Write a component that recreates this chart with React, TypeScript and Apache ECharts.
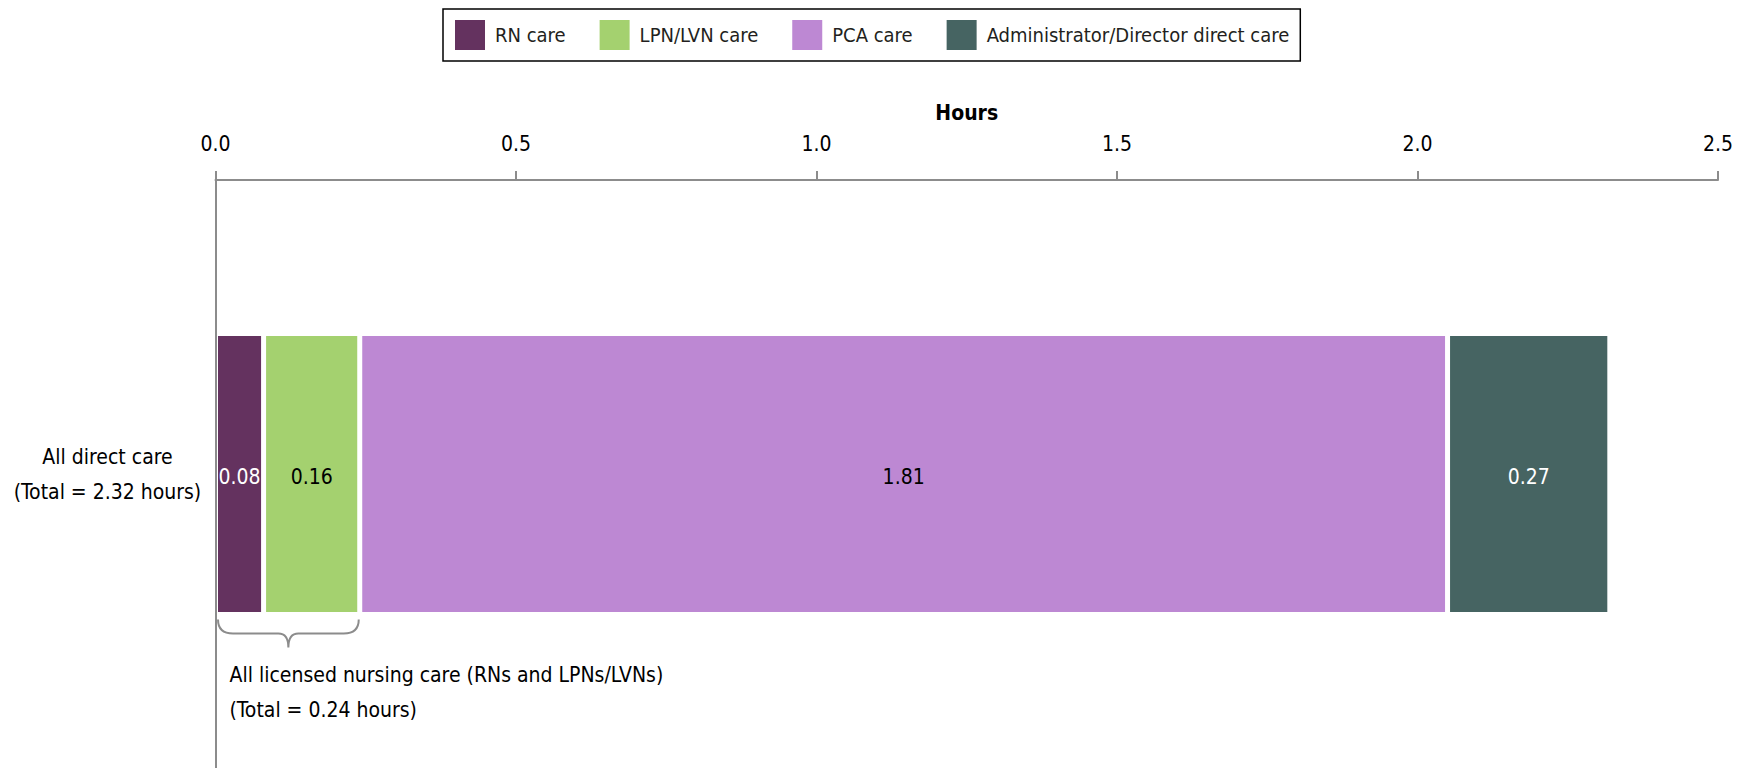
import React, { useEffect, useRef } from 'react';
import * as echarts from 'echarts';

const categories = ['All direct care\n(Total = 2.32 hours)'];
const seriesNames = ['RN care', 'LPN/LVN care', 'PCA care', 'Administrator/Director direct care'];
const rnValues = [0.08];
const lpnValues = [0.16];
const pcaValues = [1.81];
const adminValues = [0.27];
const seriesValues = [rnValues, lpnValues, pcaValues, adminValues];
const seriesColors = ['#64325f', '#a4d16f', '#bd88d3', '#466462'];
const labelColors = ['#ffffff', '#000000', '#000000', '#ffffff'];
const xMin = 0;
const xMax = 2.5;
const xInterval = 0.5;
const axisName = 'Hours';
const bracketLines = ['All licensed nursing care (RNs and LPNs/LVNs)', '(Total = 0.24 hours)'];
const licensedTotal = 0.24;

const FONT = "'Liberation Sans Narrow', 'DejaVu Sans Condensed', 'Roboto Condensed', sans-serif";
const AXIS_COLOR = '#8c8c8c';
const W = 1749;
const H = 768;
const GRID = { left: 215.5, right: 31, top: 180, bottom: -5 };
const BAR_WIDTH = 281;
const FS = 21;

const Brace = echarts.graphic.extendShape({
  type: 'brace',
  shape: { x1: 0, x2: 0, y: 0, h: 28, r: 15, rc: 10 },
  buildPath(ctx: any, s: any) {
    const xc = (s.x1 + s.x2) / 2;
    const yMid = s.y + s.h / 2;
    const yTip = s.y + s.h;
    ctx.moveTo(s.x1, s.y);
    ctx.quadraticCurveTo(s.x1, yMid, s.x1 + s.r, yMid);
    ctx.lineTo(xc - s.rc, yMid);
    ctx.quadraticCurveTo(xc, yMid, xc, yTip);
    ctx.quadraticCurveTo(xc, yMid, xc + s.rc, yMid);
    ctx.lineTo(s.x2 - s.r, yMid);
    ctx.quadraticCurveTo(s.x2, yMid, s.x2, s.y);
  },
} as any);
echarts.graphic.registerShape('brace', Brace as any);

export default function App() {
  const ref = useRef<HTMLDivElement>(null);
  useEffect(() => {
    document.body.style.margin = '0';
    document.body.style.overflow = 'hidden';
    const chart = echarts.init(ref.current!, null, { renderer: 'svg' });
    const series = seriesNames.map((name, i) => ({
      name,
      type: 'bar',
      stack: 'total',
      barWidth: BAR_WIDTH,
      data: seriesValues[i],
      itemStyle: { color: seriesColors[i], borderColor: '#ffffff', borderWidth: 2.5 },
      label: {
        show: true,
        position: 'inside',
        offset: [0, 3],
        color: labelColors[i],
        fontFamily: FONT,
        fontSize: FS,
        formatter: (p: any) => p.value.toFixed(2),
      },
      emphasis: { disabled: true },
    }));
    chart.setOption({
      animation: false,
      textStyle: { fontFamily: FONT },
      legend: {
        left: 443,
        top: 9,
        data: seriesNames,
        icon: 'rect',
        itemWidth: 32,
        itemHeight: 32,
        itemGap: 32,
        borderColor: '#000000',
        borderWidth: 1.5,
        padding: [9, 11, 9, 10],
        selectedMode: false,
        textStyle: { fontFamily: FONT, fontSize: 20, color: '#231f20', padding: [0, 0, 0, 4] },
      },
      grid: GRID,
      xAxis: {
        type: 'value',
        position: 'top',
        min: xMin,
        max: xMax,
        interval: xInterval,
        name: axisName,
        nameLocation: 'middle',
        nameGap: 57,
        nameTextStyle: { fontFamily: FONT, fontSize: FS, fontWeight: 'bold', color: '#000000' },
        axisLine: { show: true, lineStyle: { color: AXIS_COLOR, width: 2 } },
        axisTick: { show: true, length: 9, lineStyle: { color: AXIS_COLOR, width: 2 } },
        axisLabel: {
          fontFamily: FONT,
          fontSize: FS,
          color: '#000000',
          margin: 26,
          formatter: (v: number) => v.toFixed(1),
        },
        splitLine: { show: false },
      },
      yAxis: {
        type: 'category',
        data: categories,
        z: 5,
        axisLine: { show: true, lineStyle: { color: AXIS_COLOR, width: 2 } },
        axisTick: { show: false },
        axisLabel: {
          fontFamily: FONT,
          fontSize: FS,
          lineHeight: 35,
          padding: [12, 0, 0, 0],
          color: '#000000',
          align: 'center',
          margin: 108,
        },
      },
      series,
    });

    const x0 = chart.convertToPixel({ xAxisIndex: 0 }, xMin) as number;
    const xL = chart.convertToPixel({ xAxisIndex: 0 }, licensedTotal) as number;
    const yc = chart.convertToPixel({ yAxisIndex: 0 }, categories[0]) as number;
    const barBottom = yc + BAR_WIDTH / 2;

    chart.setOption({
      graphic: [
        {
          type: 'brace',
          shape: { x1: x0 + 2.5, x2: xL - 1, y: barBottom + 5, h: 28, r: 15, rc: 10 },
          style: { stroke: AXIS_COLOR, lineWidth: 2, fill: 'none' },
          silent: true,
        },
        {
          type: 'text',
          x: x0 + 14,
          y: barBottom + 43,
          style: {
            text: bracketLines.join('\n'),
            fontFamily: FONT,
            fontSize: FS,
            lineHeight: 35,
            fill: '#000000',
            textAlign: 'left',
            textVerticalAlign: 'top',
          },
          silent: true,
        },
      ],
    });

    return () => chart.dispose();
  }, []);
  return <div ref={ref} style={{ width: W, height: H }} />;
}
